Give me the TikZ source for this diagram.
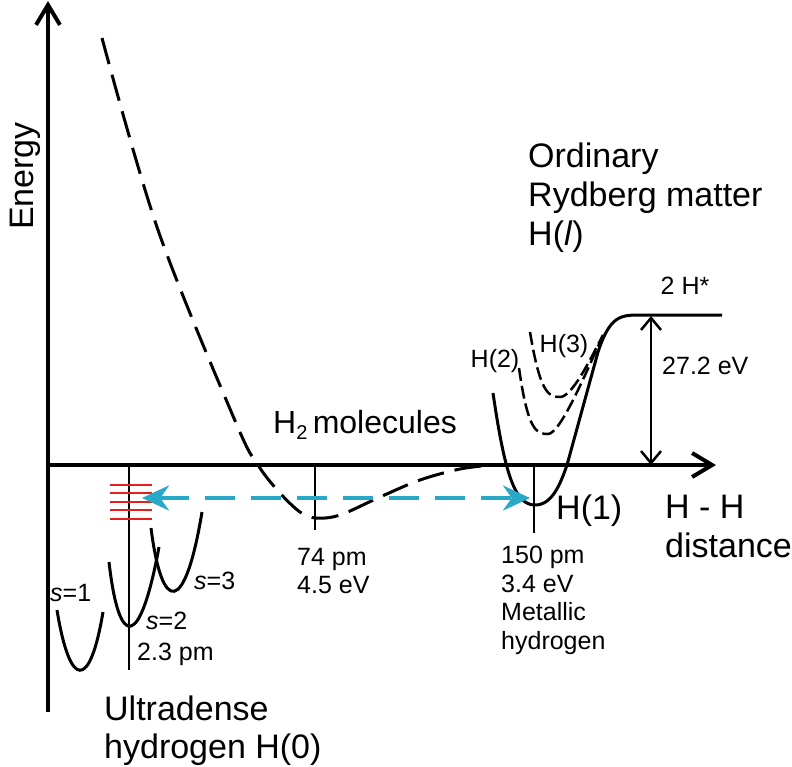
\documentclass[tikz,border=0pt]{standalone}
\usepackage{fontspec}
\setmainfont{Liberation Sans}
\usetikzlibrary{arrows.meta}
\definecolor{cyanblue}{RGB}{41,168,200}
\definecolor{levelred}{RGB}{230,30,30}

\begin{document}
\begin{tikzpicture}[
    x=1pt, y=-1pt,
    axis/.style={line width=4pt, -{Straight Barb[length=20pt, width=24pt]}},
    gap/.style={line width=2.5pt, {Straight Barb[length=12pt, width=20pt]}-{Straight Barb[length=12pt, width=20pt]}},
    big/.style={inner sep=0pt, font=\fontsize{34}{39}\selectfont},
    small/.style={inner sep=0pt, font=\fontsize{25}{28.5}\selectfont},
    well/.style={line width=3pt},
    longdash/.style={line width=3pt, dash pattern=on 27pt off 11pt},
    shortdash/.style={line width=2.5pt, dash pattern=on 13pt off 5pt},
    tick/.style={line width=2pt},
    level/.style={levelred, line width=2pt},
    transfer/.style={cyanblue, line width=4pt, dash pattern=on 30pt off 16pt, {Stealth[length=27pt, width=25pt]}-{Stealth[length=27pt, width=25pt]}}
]
\useasboundingbox (0,0) rectangle (792,766);

% Axes
\coordinate (origin) at (48,465);
\coordinate (ytip) at (48,1);
\coordinate (ybot) at (48,712);
\coordinate (xtip) at (716,465);
\draw[line width=4pt] (ybot) -- (origin);
\draw[axis] (origin) -- (ytip);
\draw[axis] (origin) -- (xtip);

% Ticks
\draw[tick] (129,465) -- (129,670);
\draw[tick] (315,465) -- (315,530);
\draw[tick] (534,465) -- (534,533);

% H2 molecules
\draw[longdash] plot[smooth, tension=0.55] coordinates {(102,38) (158,230) (236,423) (258,465) (279,492) (300,512) (316,518) (340,515) (380,497) (420,480) (460,469) (492,465)};

% Ultradense wells s=1,2,3
\draw[well] (57,610) .. controls (70,690) and (90,690) .. (103,612);
\draw[well] (109,562) .. controls (119,650) and (140,650) .. (159,547);
\draw[well] (151,528) .. controls (162,615) and (185,615) .. (202,512);
\foreach \y in {485,493,502,510,519}
    \draw[level] (110,\y) -- (152,\y);

% Rydberg matter H(1), H(2), H(3)
\draw[well] (493,393) .. controls (505,475) and (515,505) .. (535,505)
    .. controls (552,505) and (560,485) .. (567,465) -- (598,352)
    .. controls (610,316) and (620,315) .. (640,315) -- (722,315);
\draw[shortdash] (519,368) .. controls (528,432) and (537,434) .. (548,434)
    .. controls (560,434) and (585,375) .. (600,342);
\draw[shortdash] (530,332) .. controls (540,392) and (548,397) .. (560,397)
    .. controls (572,397) and (590,360) .. (603,335);

% Arrows
\coordinate (sflat) at (651,316);
\coordinate (saxis) at (651,465);
\draw[gap] (sflat) -- (saxis);
\coordinate (tleft) at (142,498);
\coordinate (tright) at (530,498);
\draw[transfer] (tleft) -- (tright);

% Labels
\node (energy) [big, rotate=90, anchor=base] at (33,176) {Energy};
\node (ryd) [big, align=left, anchor=north west] at (528,143) {Ordinary\\Rydberg matter\\H(\textit{l})};
\node (hstar) [small, anchor=base] at (685,294) {2 H*};
\node (ev27) [small, anchor=base west] at (662,374) {27.2 eV};
\node (h2lab) [small, anchor=base] at (495,367) {H(2)};
\node (h3lab) [small, anchor=base] at (564,352) {H(3)};
\node (mol) [inner sep=0pt, font=\fontsize{32}{38}\selectfont, anchor=base west] at (273,433) {H\raisebox{-6pt}{\fontsize{20}{20}\selectfont 2}\,molecules};
\node (h1lab) [big, anchor=base west] at (556,519) {H(1)};
\node (dist) [big, align=left, anchor=north west] at (665,495) {H - H\\distance};
\node (pm74) [small, align=left, anchor=north west] at (297,548) {74 pm\\4.5 eV};
\node (pm150) [small, align=left, anchor=north west] at (501,546) {150 pm\\3.4 eV\\Metallic\\hydrogen};
\node (s1) [small, anchor=base west] at (50,601) {\textit{s}=1};
\node (s2) [small, anchor=base west] at (146,629) {\textit{s}=2};
\node (s3) [small, anchor=base west] at (194,589) {\textit{s}=3};
\node (pm23) [small, anchor=base west] at (137,660) {2.3 pm};
\node (udh) [inner sep=0pt, font=\fontsize{34}{38}\selectfont, align=left, anchor=north west] at (104,696) {Ultradense\\hydrogen H(0)};

\end{tikzpicture}
\end{document}
